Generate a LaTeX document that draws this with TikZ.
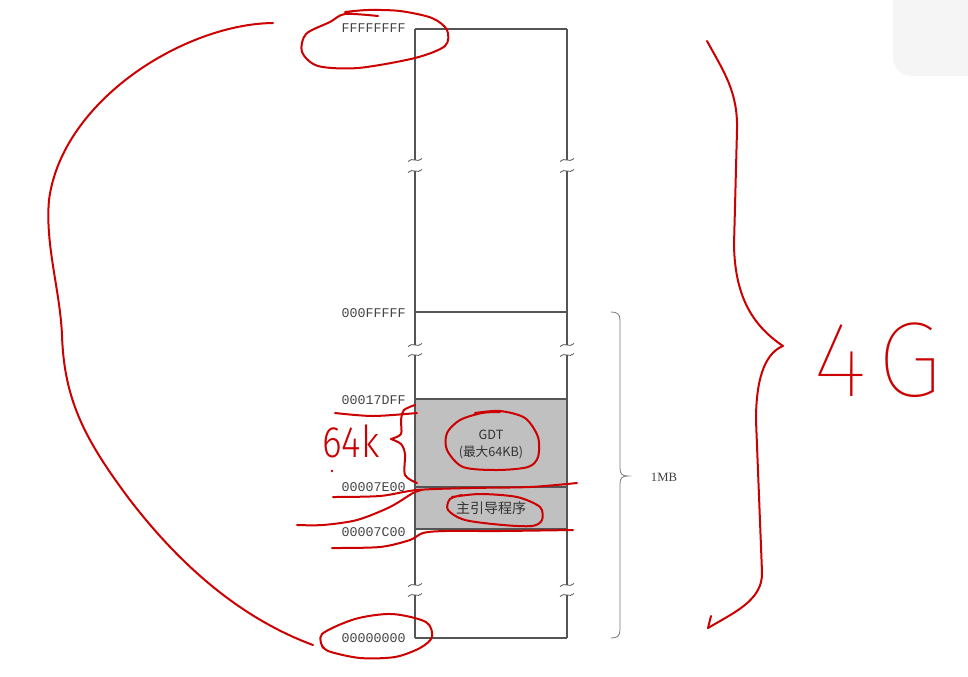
\documentclass[tikz,border=0pt]{standalone}
\usepackage{fontspec}
\setmainfont{Liberation Serif}
\newfontfamily\hexfont{Liberation Mono}
\newfontfamily\cjk{Noto Sans CJK SC}
\newfontfamily\handthin{Fira Sans Thin}
\newfontfamily\handlight{Fira Sans Light}
\definecolor{memline}{HTML}{555555}
\definecolor{memfill}{HTML}{C0C0C0}
\definecolor{ink}{HTML}{CC0000}
\definecolor{labelgray}{HTML}{444444}
\definecolor{bracegray}{HTML}{7A7A7A}
\newcommand\brkmark[2]{\draw[memline,line width=0.6pt] (#1-7,#2+1.5) .. controls (#1-3,#2-3.5) and (#1+3,#2+3.5) .. (#1+7,#2-1.5);}
\tikzset{
  memedge/.style={draw=memline,line width=0.8pt},
  hexlabel/.style={anchor=east,inner sep=0pt,text=labelgray,font=\hexfont\fontsize{10pt}{12pt}\selectfont},
  inlabel/.style={inner sep=0pt,text=black!80,font=\cjk\fontsize{9.5pt}{11pt}\selectfont},
  redpen/.style={draw=ink,line width=1.5pt,line cap=round,line join=round},
}
\begin{document}
\begin{tikzpicture}[x=0.75pt,y=-0.75pt]
\useasboundingbox (0,0) rectangle (968,676);
\fill[white] (0,0) rectangle (968,676);
% screen smudge at top right
\fill[black!4,rounded corners=14pt] (893,-20) rectangle (990,76);

% memory regions
\fill[memfill] (415,399) rectangle (567,487);
\fill[memfill] (415,487) rectangle (567,529);
% horizontals
\draw[memedge] (415,29) -- (567,29);
\draw[memedge] (415,312) -- (567,312);
\draw[memedge] (415,399) -- (567,399);
\draw[memedge] (415,487) -- (567,487);
\draw[memedge] (415,529) -- (567,529);
\draw[memedge] (415,638) -- (567,638);
% verticals with breaks
\foreach \xx in {415,567}{
  \draw[memedge] (\xx,29) -- (\xx,160);
  \draw[memedge] (\xx,171) -- (\xx,345);
  \draw[memedge] (\xx,355) -- (\xx,585);
  \draw[memedge] (\xx,595) -- (\xx,638);
  \brkmark{\xx}{160}
  \brkmark{\xx}{171}
  \brkmark{\xx}{345}
  \brkmark{\xx}{355}
  \brkmark{\xx}{585}
  \brkmark{\xx}{595}
}

% address labels
\node[hexlabel] (aF) at (406,28) {FFFFFFFF};
\node[hexlabel] (a1M) at (406,313) {000FFFFF};
\node[hexlabel] (aGt) at (406,400) {00017DFF};
\node[hexlabel] (aGb) at (406,487) {00007E00};
\node[hexlabel] (aB) at (406,532) {00007C00};
\node[hexlabel] (a0) at (406,638) {00000000};

% region labels
\node[inlabel] (gdt) at (491,435) {GDT};
\node[inlabel] (gdtmax) at (491,452) {(最大64KB)};
\node[inlabel,font=\cjk\fontsize{10.5pt}{12pt}\selectfont] (boot) at (491,508) {主引导程序};

% 1MB brace
\draw[bracegray,line width=0.6pt] (611,312) .. controls (617,312) and (620,314) .. (620,320) -- (620,468) .. controls (620,474) and (622,476) .. (628,476) .. controls (622,476) and (620,478) .. (620,484) -- (620,630) .. controls (620,636) and (617,638) .. (611,638);
\node[inner sep=0pt,text=black!75,font=\fontsize{9.5pt}{11pt}\selectfont] (mb) at (664,477) {1MB};

% ===== red pen annotations =====
% big left arc
\draw[redpen] (273,23) .. controls (185,24) and (62,100) .. (49,200) .. controls (45,245) and (60,290) .. (62,335) .. controls (64,400) and (85,440) .. (130,500) .. controls (180,565) and (240,618) .. (313,645);
% loop round FFFFFFFF
\draw[redpen] plot[smooth] coordinates {(378,16) (345,14) (330,22) (306,34) (302,52) (318,66) (358,68) (415,58) (445,46) (447,30) (432,18) (400,11) (368,10) (345,12)};
% loop round 00000000
\draw[redpen] plot[smooth] coordinates {(323,648) (322,634) (355,619) (392,614) (426,622) (432,637) (420,648) (395,657) (360,658) (328,651) (321,643)};
% loop round GDT
\draw[redpen] plot[smooth] coordinates {(475,413) (500,411) (525,418) (538,437) (538,457) (528,467) (497,470) (463,467) (447,450) (447,433) (460,420) (482,413) (500,412)};
% loop round boot
\draw[redpen] plot[smooth] coordinates {(452,497) (480,494) (517,497) (540,507) (542,520) (532,526) (503,525) (465,520) (448,510) (450,499) (462,495)};
% underline 00017DFF
\draw[redpen] plot[smooth] coordinates {(335,413) (373,416) (417,413)};
% small brace for 64k
\draw[redpen] plot[smooth] coordinates {(415,405) (404,410) (401,420) (401,434) (391,439)};
\draw[redpen] plot[smooth] coordinates {(391,439) (401,444) (405,454) (405,475) (417,483)};
\node[inner sep=0pt,text=ink,font=\handlight\fontsize{33pt}{36pt}\selectfont,xscale=0.85] (k64) at (351,441) {64k};
\fill[ink] (332,471) circle (1pt);
% lines around 00007E00
\draw[redpen] plot[smooth] coordinates {(333,497) (380,496) (417,490) (470,488) (530,487) (577,483)};
\draw[redpen] plot[smooth] coordinates {(297,525) (323,525) (357,520) (390,507) (413,493) (422,490)};
% line under 00007C00
\draw[redpen] plot[smooth] coordinates {(332,548) (380,547) (410,540) (423,533) (445,531) (500,531) (573,530)};
% big right brace
\draw[redpen] (707,41) .. controls (724,72) and (738,92) .. (737,130) -- (734,245) .. controls (735,300) and (755,327) .. (783,346);
\draw[redpen] (783,346) .. controls (768,352) and (756,372) .. (756,420) -- (762,572) .. controls (763,600) and (735,612) .. (708,628);
\draw[redpen] (708,628) -- (711,616);
\node[inner sep=0pt,text=ink,font=\handthin\fontsize{80pt}{86pt}\selectfont] (g4) at (878,360) {4\hspace{8pt}G};
\end{tikzpicture}
\end{document}
